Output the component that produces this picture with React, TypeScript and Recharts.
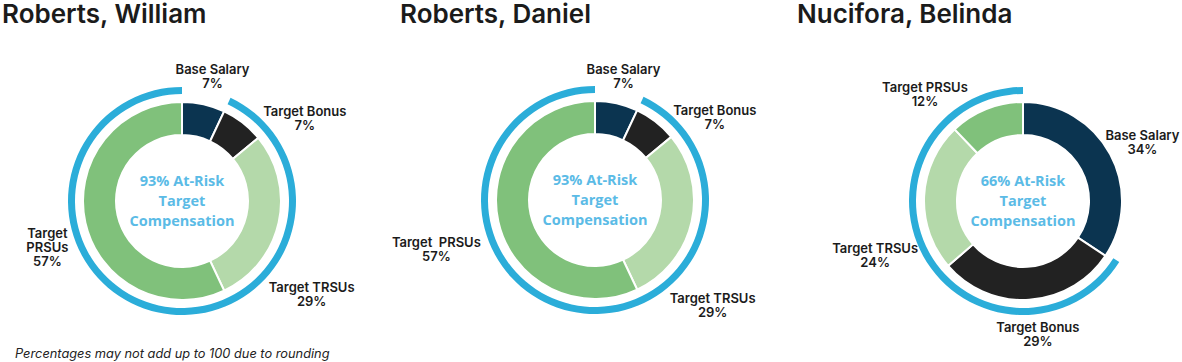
import { PieChart, Pie, Cell } from "recharts";

const categories = ["Base Salary", "Target Bonus", "Target TRSUs", "Target PRSUs"];
const colors = ["#0b3450", "#222222", "#b4d9aa", "#80c17b"];

const names = ["Roberts, William", "Roberts, Daniel", "Nucifora, Belinda"];
const williamValues = [7, 7, 29, 57];
const danielValues = [7, 7, 29, 57];
const belindaValues = [34, 29, 24, 12];
const atRisk = [93, 93, 66];

// label text per chart (PRSU label wraps differently)
const labelText = [
  ["Base Salary", "Target Bonus", "Target TRSUs", "Target\nPRSUs"],
  ["Base Salary", "Target Bonus", "Target TRSUs", "Target  PRSUs"],
  ["Base Salary", "Target Bonus", "Target TRSUs", "Target PRSUs"],
];

// nudges from the default label spot (midAngle, r = outer + 41)
const nudges = [
  [[0, 12], [37, 28], [-7, 62], [2, 15]],
  [[-2, 13], [34, 28], [-19, 74], [-22, 18]],
  [[-4, 7], [6, -7], [-8, 61], [-46, 23]],
];

const layout = [
  { left: 0, width: 385, cx: 182, cy: 201, title: 2 },
  { left: 385, width: 405, cx: 210, cy: 200, title: 15 },
  { left: 790, width: 392, cx: 233, cy: 201, title: 7 },
];

const seriesList = [williamValues, danielValues, belindaValues];
const RADIAN = Math.PI / 180;
const font = "Inter, 'Noto Sans', sans-serif";

function SliceLabel(props: any, chart: number) {
  const { cx, cy, midAngle, outerRadius, index, value } = props;
  const r = outerRadius + 41;
  const [dx, dy] = nudges[chart][index];
  const x = cx + r * Math.cos(-midAngle * RADIAN) + dx;
  const lines = [...labelText[chart][index].split("\n"), `${value}%`];
  const lh = 14;
  const y0 = cy + r * Math.sin(-midAngle * RADIAN) + dy - ((lines.length - 1) * lh) / 2;
  return (
    <text x={x} y={y0} textAnchor="middle" dominantBaseline="central" fill="#1b1b1b" fontSize={13} fontWeight={600} fontFamily={font}>
      {lines.map((l, i) => (
        <tspan key={i} x={x} y={y0 + i * lh} style={{ whiteSpace: "pre" }}>
          {l}
        </tspan>
      ))}
    </text>
  );
}

function Donut({ chart }: { chart: number }) {
  const vals = seriesList[chart];
  const data = categories.map((c, i) => ({ name: c, value: vals[i] }));
  const ring = [
    { name: "Fixed", value: 100 - atRisk[chart] },
    { name: "At-Risk", value: atRisk[chart] },
  ];
  const l = layout[chart];
  return (
    <div style={{ position: "absolute", left: l.left, top: 0, width: l.width, height: 362 }}>
      <PieChart width={l.width} height={362} margin={{ top: 0, right: 0, bottom: 0, left: 0 }} style={{ position: "absolute", left: 0, top: 0 }}>
        <Pie
          data={ring}
          dataKey="value"
          cx={l.cx}
          cy={l.cy}
          innerRadius={107}
          outerRadius={114}
          startAngle={90}
          endAngle={-270}
          stroke="none"
          isAnimationActive={false}
        >
          <Cell fill="transparent" />
          <Cell fill="#2badd9" />
        </Pie>
        <Pie
          data={data}
          dataKey="value"
          cx={l.cx}
          cy={l.cy}
          innerRadius={66}
          outerRadius={99}
          startAngle={90}
          endAngle={-270}
          stroke="#ffffff"
          strokeWidth={2}
          labelLine={false}
          label={(p: any) => SliceLabel(p, chart)}
          isAnimationActive={false}
        >
          {data.map((d, i) => (
            <Cell key={d.name} fill={colors[i]} />
          ))}
        </Pie>
      </PieChart>
      <div style={{ position: "absolute", left: l.title, top: -2, fontFamily: font, fontWeight: 600, fontSize: 26, color: "#1b1b1b", lineHeight: "32px", whiteSpace: "nowrap" }}>
        {names[chart]}
      </div>
      <div
        style={{
          position: "absolute",
          left: l.cx - 70,
          top: l.cy - 30,
          width: 140,
          textAlign: "center",
          fontFamily: "'Open Sans', sans-serif",
          fontWeight: 700,
          fontSize: 14.5,
          lineHeight: "20px",
          color: "#5bbbe6",
        }}
      >
        {atRisk[chart]}% At-Risk
        <br />
        Target
        <br />
        Compensation
      </div>
    </div>
  );
}

export default function App() {
  return (
    <div style={{ position: "absolute", left: 0, top: 0, width: 1182, height: 362, background: "#fff", overflow: "hidden" }}>
      <Donut chart={0} />
      <Donut chart={1} />
      <Donut chart={2} />
      <div style={{ position: "absolute", left: 15, top: 345, fontFamily: font, fontStyle: "italic", fontSize: 12.8, color: "#222", lineHeight: "18px" }}>
        Percentages may not add up to 100 due to rounding
      </div>
    </div>
  );
}
